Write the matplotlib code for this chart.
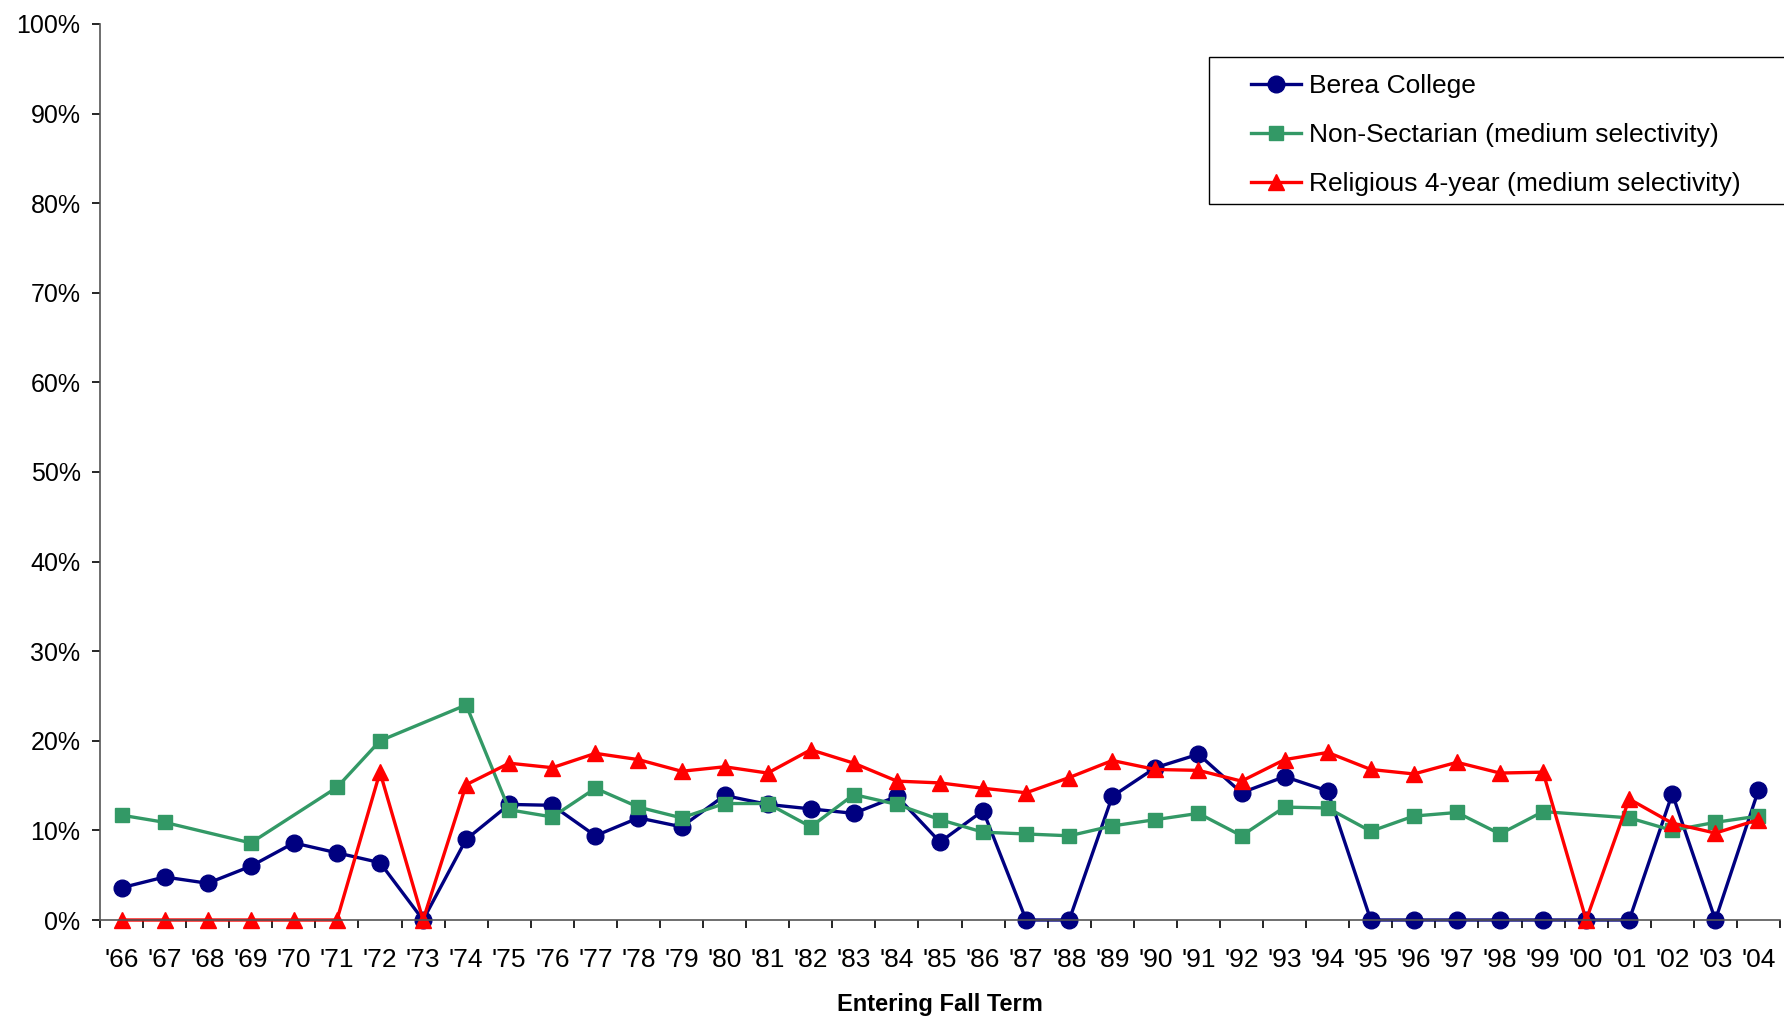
import numpy as np
import matplotlib

matplotlib.use("Agg")
import matplotlib.pyplot as plt
from matplotlib.patches import Rectangle
from matplotlib.ticker import FixedLocator, PercentFormatter

plt.rcParams["font.family"] = ["Liberation Sans", "DejaVu Sans"]

YEARS = ["'66", "'67", "'68", "'69", "'70", "'71", "'72", "'73", "'74", "'75",
         "'76", "'77", "'78", "'79", "'80", "'81", "'82", "'83", "'84", "'85",
         "'86", "'87", "'88", "'89", "'90", "'91", "'92", "'93", "'94", "'95",
         "'96", "'97", "'98", "'99", "'00", "'01", "'02", "'03", "'04"]

# percent values per entering fall term; None = no data for that year
berea = [3.6, 4.8, 4.1, 6.0, 8.6, 7.5, 6.4, 0.0, 9.0, 12.9,
         12.8, 9.4, 11.4, 10.4, 13.9, 12.9, 12.4, 11.9, 13.8, 8.7,
         12.2, 0.0, 0.0, 13.8, 17.0, 18.5, 14.2, 16.0, 14.4, 0.0,
         0.0, 0.0, 0.0, 0.0, 0.0, 0.0, 14.1, 0.0, 14.5]
non_sectarian = [11.7, 10.9, None, 8.6, None, 14.8, 20.0, None, 24.0, 12.3,
                 11.5, 14.7, 12.6, 11.4, 13.0, 13.0, 10.4, 14.0, 12.9, 11.2,
                 9.8, 9.6, 9.4, 10.5, 11.2, 11.9, 9.4, 12.6, 12.5, 9.9,
                 11.6, 12.0, 9.6, 12.1, None, 11.4, 10.0, 10.9, 11.6]
religious = [0.0, 0.0, 0.0, 0.0, 0.0, 0.0, 16.5, 0.0, 15.1, 17.5,
             17.0, 18.6, 17.9, 16.6, 17.1, 16.4, 19.0, 17.5, 15.5, 15.3,
             14.7, 14.2, 15.9, 17.8, 16.8, 16.7, 15.5, 17.9, 18.7, 16.8,
             16.3, 17.6, 16.4, 16.5, 0.0, 13.5, 10.8, 9.7, 11.2]

SERIES = [
    ("Berea College", berea, "#000080", "o", 12),
    ("Non-Sectarian (medium selectivity)", non_sectarian, "#339966", "s", 10.5),
    ("Religious 4-year (medium selectivity)", religious, "#FF0000", "^", 11.5),
]

W, H = 1784, 1018


def main():
    fig = plt.figure(figsize=(W / 100, H / 100), dpi=100)
    ax = fig.add_axes([100 / W, 1 - 920 / H, 1680 / W, 896 / H])

    x = np.arange(len(YEARS))
    for label, values, color, marker, ms in SERIES:
        keep = [i for i, v in enumerate(values) if v is not None]
        ax.plot(x[keep], [values[i] for i in keep], color=color, marker=marker,
                markersize=ms, linewidth=2.4, label=label, clip_on=False)

    ax.set_xlim(-0.5, len(YEARS) - 0.5)
    ax.set_ylim(0, 100)

    ax.set_xticks(x)
    ax.set_xticklabels(YEARS)
    ax.xaxis.set_minor_locator(FixedLocator(np.arange(len(YEARS) + 1) - 0.5))
    ax.tick_params(axis="x", which="major", length=0, pad=20, labelsize=19)
    ax.tick_params(axis="x", which="minor", length=6, width=1.2, direction="out")

    ax.set_yticks(np.arange(0, 101, 10))
    ax.yaxis.set_major_formatter(PercentFormatter(decimals=0))
    ax.tick_params(axis="y", length=6, width=1.2, pad=8, labelsize=18)

    for side in ("top", "right"):
        ax.spines[side].set_visible(False)
    for side in ("left", "bottom"):
        ax.spines[side].set_color("#555555")
        ax.spines[side].set_linewidth(1.2)

    ax.set_xlabel("Entering Fall Term", fontsize=17, fontweight="bold", labelpad=15)

    # legend box runs off the right edge like the original
    ax.add_patch(Rectangle((1209 / W, 1 - 204 / H), 600 / W, 147 / H,
                           transform=fig.transFigure, facecolor="white",
                           edgecolor="black", linewidth=1.0, zorder=5, clip_on=False))
    leg = ax.legend(loc="upper left", bbox_to_anchor=(1251 / W, 1 - 74 / H),
                    bbox_transform=fig.transFigure, fontsize=19, frameon=False,
                    borderpad=0, borderaxespad=0, handlelength=1.9,
                    handletextpad=0.3, labelspacing=0.95)
    leg.set_zorder(6)

    fig.savefig("out.png", dpi=100)
    plt.close(fig)


if __name__ == "__main__":
    main()
